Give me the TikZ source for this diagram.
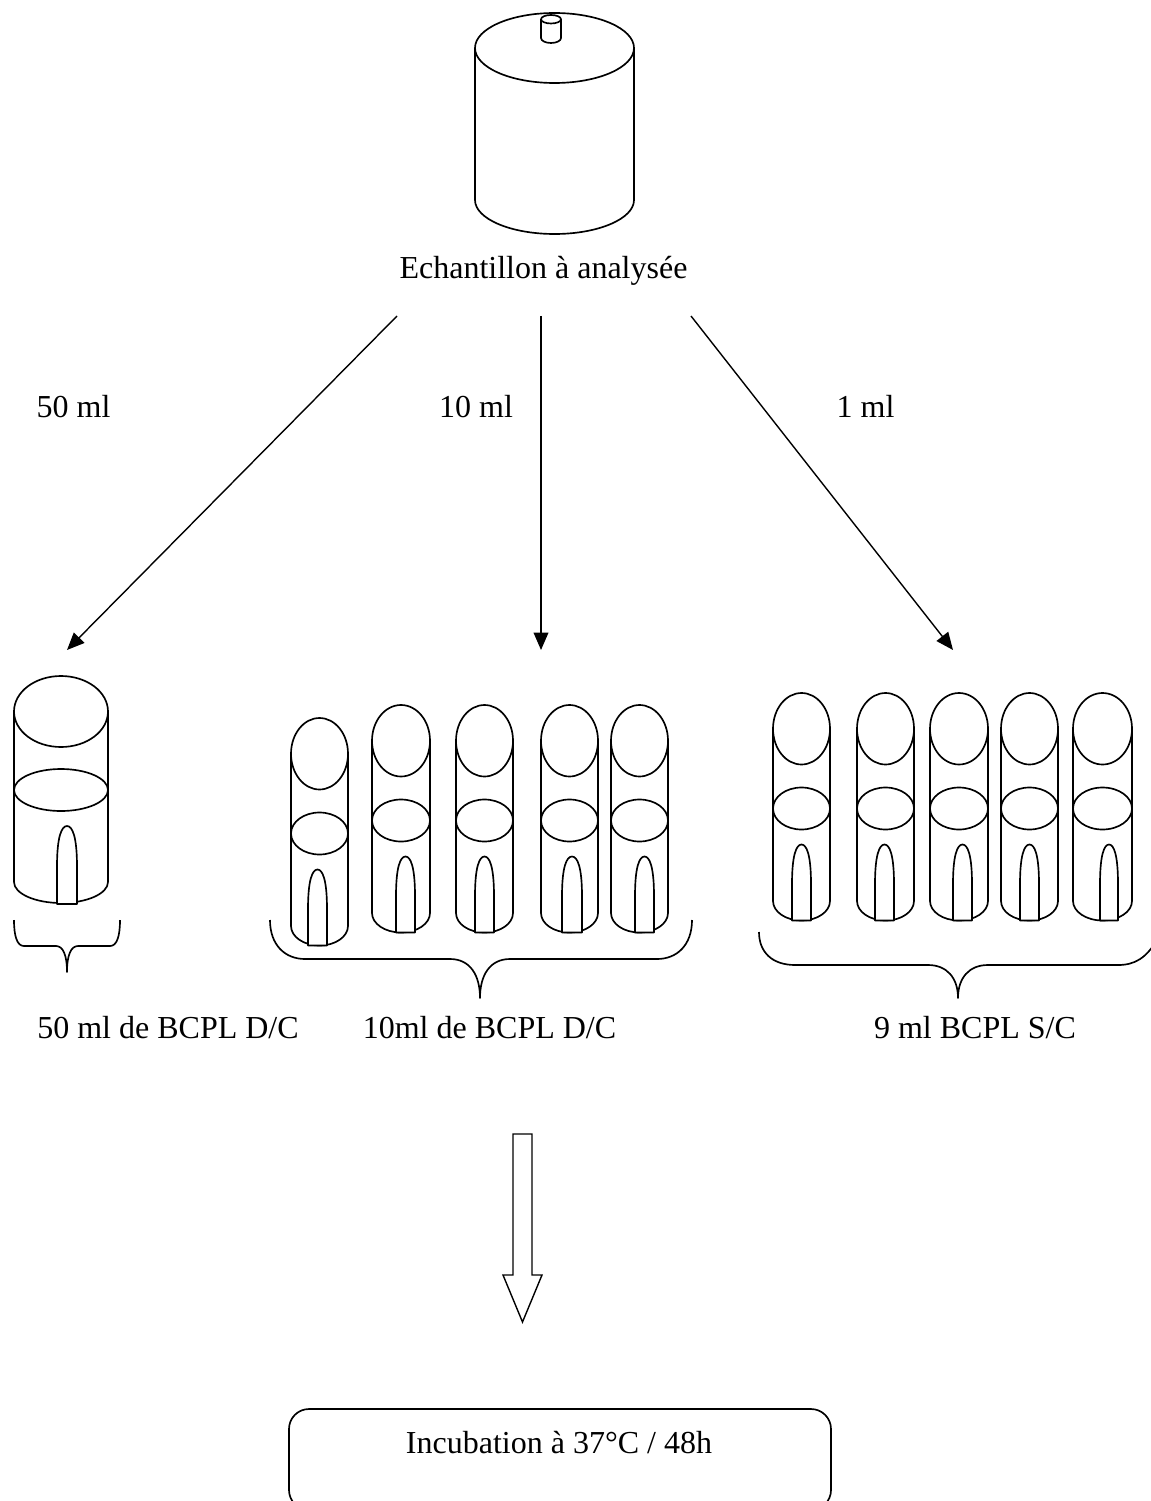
\documentclass[tikz,border=0pt]{standalone}
\usepackage{fontspec}
\setmainfont{Liberation Serif}
\usetikzlibrary{arrows.meta}
\tikzset{
  ink/.style={draw=black,line width=1.25pt,line join=round},
  flow/.style={draw=black,line width=1.05pt,-{Triangle[length=13pt,width=11pt]}},
  label/.style={anchor=base,inner sep=0pt,font=\fontsize{24pt}{28pt}\selectfont},
}
% vessel: left, right, top, ellipse bottom, side bottom, base
\newcommand{\vessel}[6]{%
  \pgfmathsetmacro{\vc}{(#1+#2)/2}\pgfmathsetmacro{\vr}{(#2-#1)/2}%
  \pgfmathsetmacro{\vm}{(#3+#4)/2}\pgfmathsetmacro{\vh}{(#4-#3)/2}%
  \pgfmathsetmacro{\vk}{#5+0.552*(#6-#5)}\pgfmathsetmacro{\va}{\vc-0.552*\vr}\pgfmathsetmacro{\vb}{\vc+0.552*\vr}%
  \draw[ink,fill=white] (#1,\vm) -- (#1,#5) .. controls (#1,\vk) and (\va,#6) .. (\vc,#6) .. controls (\vb,#6) and (#2,\vk) .. (#2,#5) -- (#2,\vm);
  \draw[ink] (\vc,\vm) ellipse [x radius=\vr,y radius=\vh];
}
% liquid level: left, right, top, bottom
\newcommand{\level}[4]{%
  \pgfmathsetmacro{\vc}{(#1+#2)/2}\pgfmathsetmacro{\vr}{(#2-#1)/2}%
  \pgfmathsetmacro{\vm}{(#3+#4)/2}\pgfmathsetmacro{\vh}{(#4-#3)/2}%
  \draw[ink] (\vc,\vm) ellipse [x radius=\vr,y radius=\vh];
}
% inner Durham bell: left, right, top, base
\newcommand{\bell}[4]{%
  \pgfmathsetmacro{\vc}{(#1+#2)/2}\pgfmathsetmacro{\vm}{#3+0.52*(#4-#3)}\pgfmathsetmacro{\vq}{#3+0.14*(#4-#3)}%
  \pgfmathsetmacro{\va}{\vc-0.5*(#2-#1)*0.55}\pgfmathsetmacro{\vb}{\vc+0.5*(#2-#1)*0.55}%
  \draw[ink,fill=white] (#1,#4) -- (#1,\vm) .. controls (#1,\vq) and (\va,#3) .. (\vc,#3) .. controls (\vb,#3) and (#2,\vq) .. (#2,\vm) -- (#2,#4) -- cycle;
}
% tube: left, right, top, bell left, bell right
\newcommand{\tube}[5]{%
  \pgfmathsetmacro{\ta}{#3+71.5}\pgfmathsetmacro{\tb}{#3+208}\pgfmathsetmacro{\tc}{#3+227.5}%
  \pgfmathsetmacro{\td}{#3+94.5}\pgfmathsetmacro{\te}{#3+136.5}\pgfmathsetmacro{\tf}{#3+151.5}%
  \edef\tmpa{\noexpand\vessel{#1}{#2}{#3}{\ta}{\tb}{\tc}}\tmpa
  \edef\tmpa{\noexpand\level{#1}{#2}{\td}{\te}}\tmpa
  \edef\tmpa{\noexpand\bell{#4}{#5}{\tf}{\tc}}\tmpa
}
\begin{document}
\begin{tikzpicture}[x=0.75pt,y=-0.75pt]
\useasboundingbox (0,0) rectangle (1151,1501);
\fill[white] (0,0) rectangle (1151,1501);
\clip (0,0) rectangle (1151,1501);

% sample container
\vessel{475}{634}{13}{83}{200}{234}
\vessel{541}{561}{15}{23.5}{38}{43}

\node[label] (sample) at (543.5,279) {Echantillon à analysée};

% flow arrows
\coordinate (a1s) at (397,316); \coordinate (a1e) at (67,650);
\coordinate (a2s) at (541,316); \coordinate (a2e) at (541,650);
\coordinate (a3s) at (691,316); \coordinate (a3e) at (953,650);
\draw[flow] (a1s) -- (a1e);
\draw[flow] (a2s) -- (a2e);
\draw[flow] (a3s) -- (a3e);

\node[label] (v50) at (73.5,417) {50 ml};
\node[label] (v10) at (476,417) {10 ml};
\node[label] (v1) at (865.5,417) {1 ml};

% large flask
\vessel{14}{108}{676}{747}{882}{903}
\level{14}{108}{769}{811}
\bell{57}{77}{826}{904}

% middle tubes
\tube{291}{348}{718}{308}{327}
\tube{372}{430}{705}{396}{415}
\tube{456}{513}{705}{475}{494}
\tube{541}{598}{705}{562}{582}
\tube{611}{668}{705}{635}{654}

% right tubes
\tube{773}{830}{693}{792}{811}
\tube{857}{914}{693}{875}{894}
\tube{930}{988}{693}{953}{972}
\tube{1001}{1058}{693}{1020}{1039}
\tube{1073}{1132}{693}{1100}{1118}

% braces
\draw[ink] (14,920) .. controls (14,936) and (17,946) .. (24,946) -- (56,946) .. controls (63,946) and (67,955) .. (67,972) .. controls (67,955) and (71,946) .. (78,946) -- (110,946) .. controls (117,946) and (120,936) .. (120,920);
\draw[ink] (270,920) .. controls (270,945) and (285,959) .. (305,959) -- (450,959) .. controls (470,959) and (480,975) .. (480,998) .. controls (480,975) and (490,959) .. (510,959) -- (657,959) .. controls (677,959) and (692,945) .. (692,920);
\draw[ink] (759,932) .. controls (759,952) and (772,965) .. (795,965) -- (928,965) .. controls (947,965) and (958,978) .. (958,998) .. controls (958,978) and (969,965) .. (988,965) -- (1118,965) .. controls (1135,965) and (1146,958) .. (1157,940);

\node[label] (l50) at (168,1038) {50 ml de BCPL D/C};
\node[label] (l10) at (489.5,1038) {10ml de BCPL D/C};
\node[label] (l9) at (975,1038) {9 ml BCPL S/C};

% hollow arrow
\draw[draw=black,line width=1.05pt,line join=miter] (513,1134) -- (532,1134) -- (532,1275) -- (542,1275) -- (522.5,1322) -- (503,1275) -- (513,1275) -- cycle;

% incubation box
\draw[ink,rounded corners=15pt] (289,1409) rectangle (831,1510);
\node[label] (incub) at (559,1453) {Incubation à 37°C / 48h};
\end{tikzpicture}
\end{document}
